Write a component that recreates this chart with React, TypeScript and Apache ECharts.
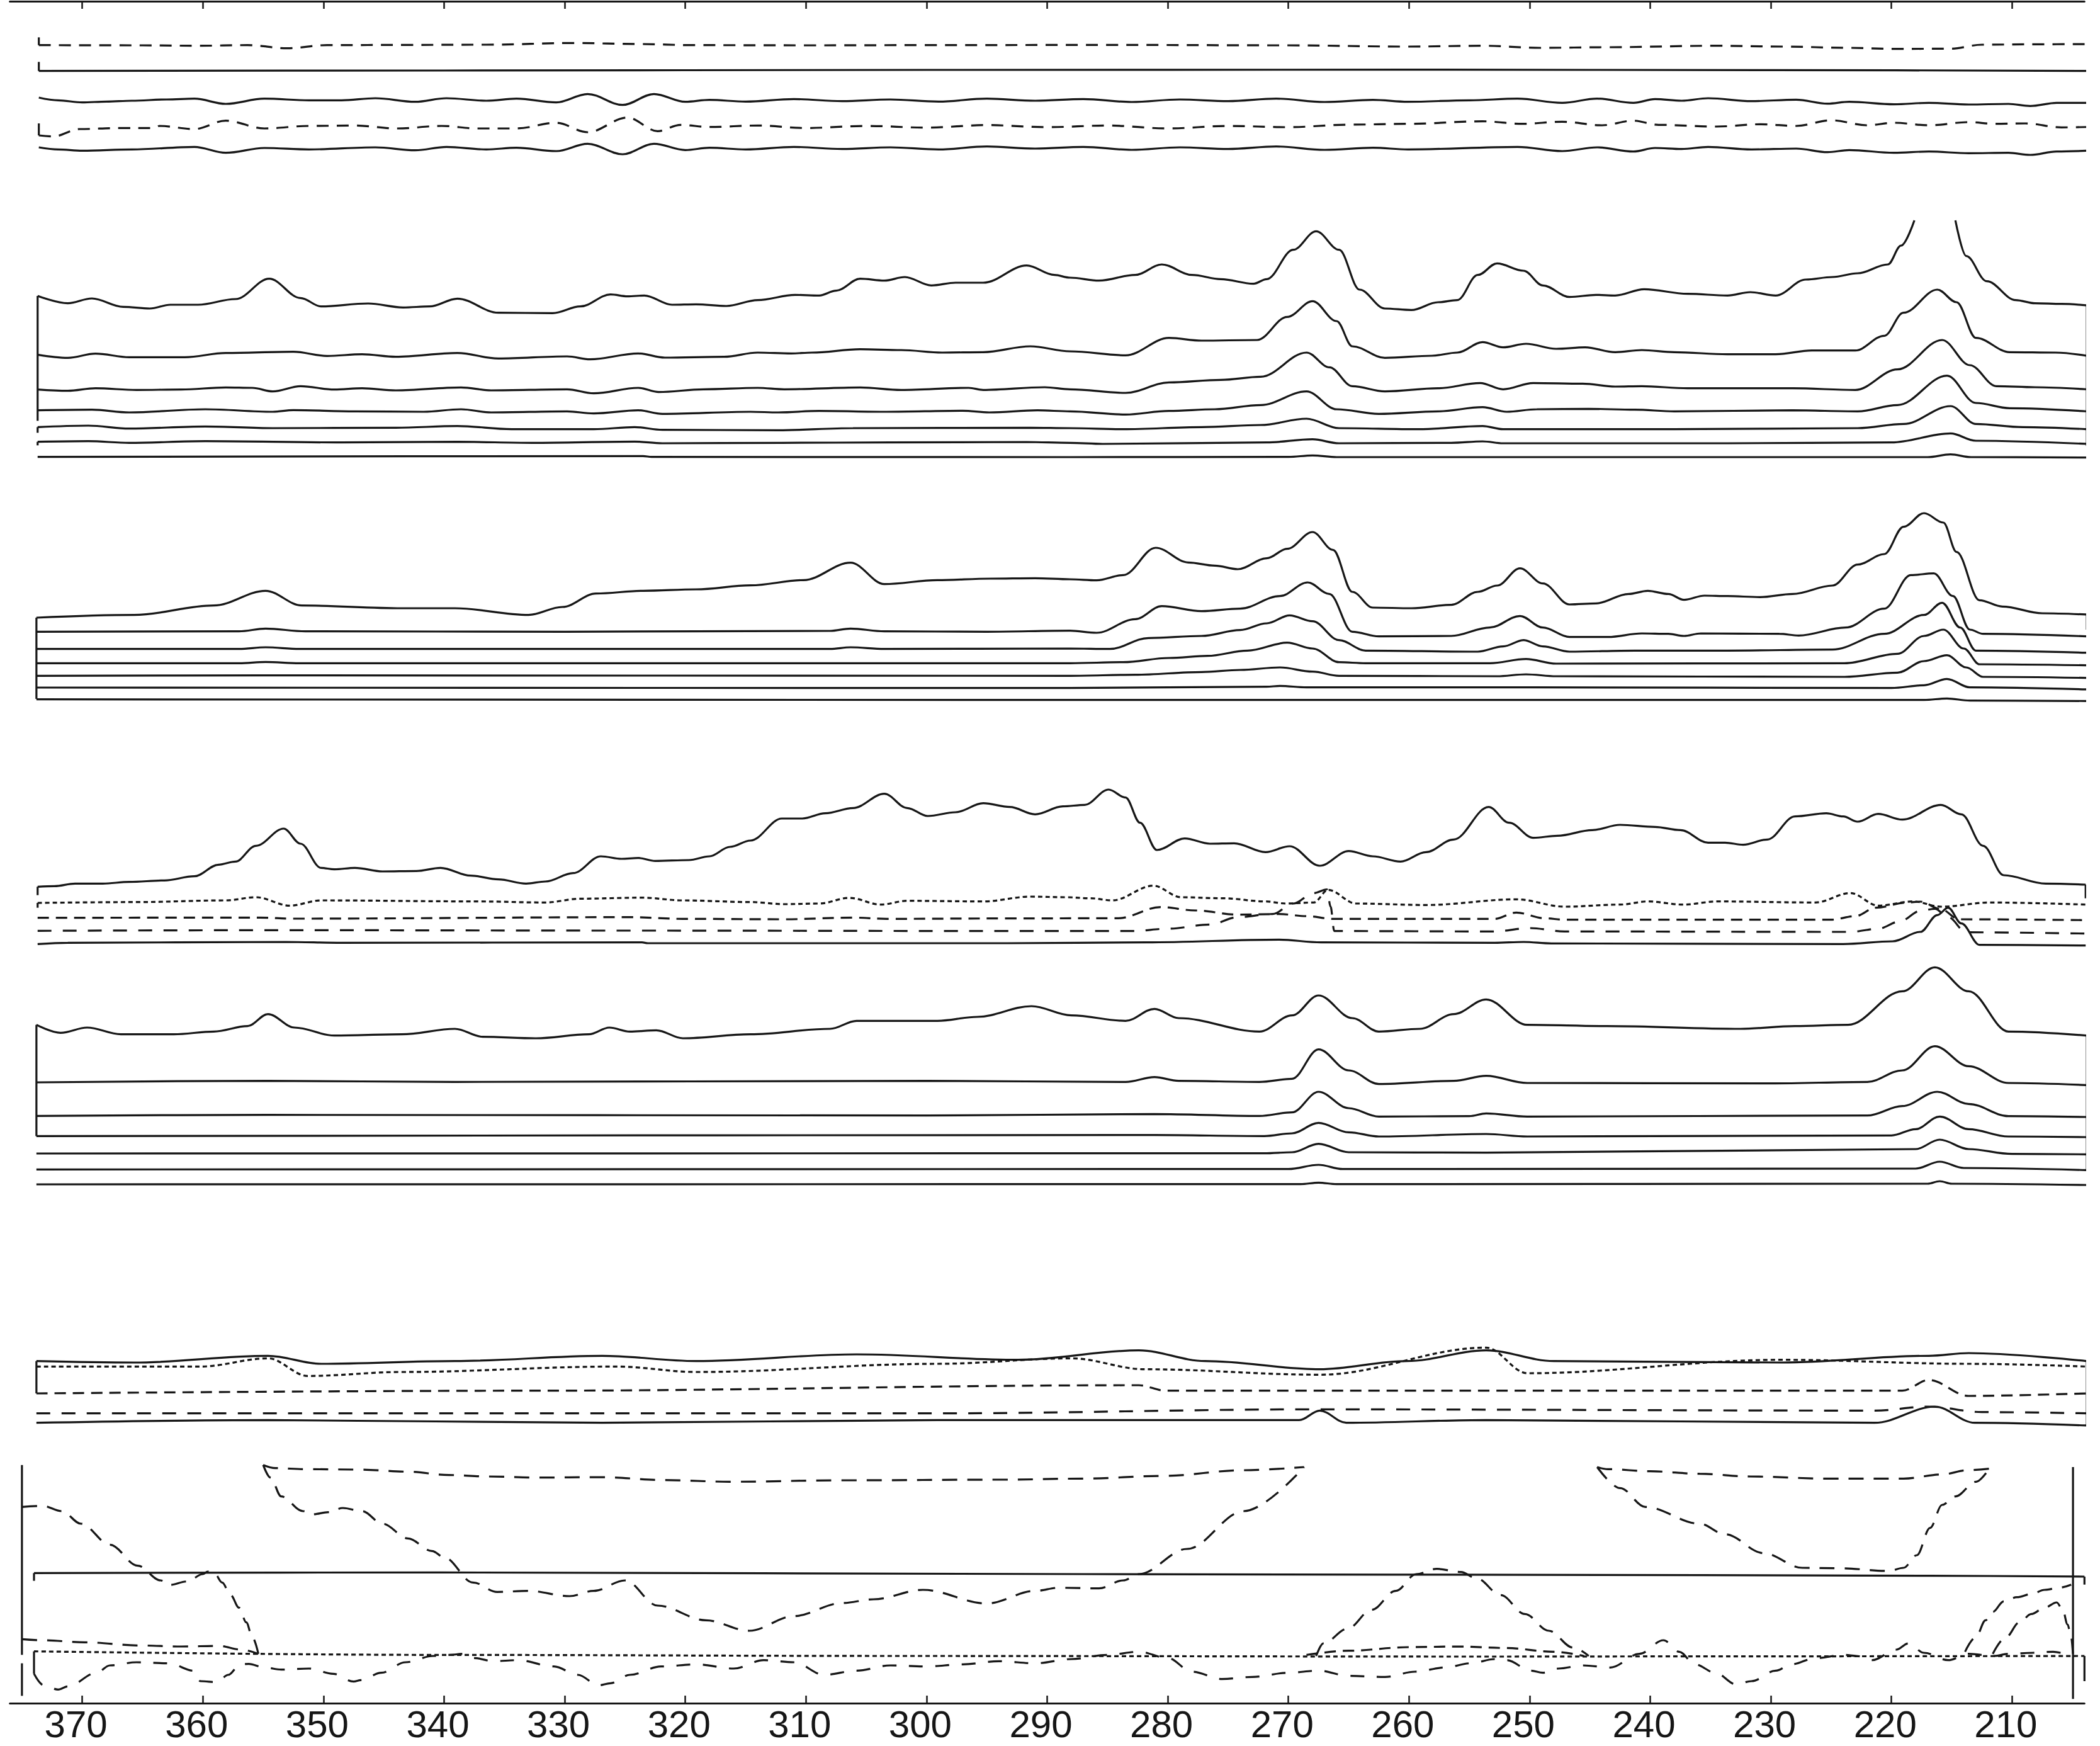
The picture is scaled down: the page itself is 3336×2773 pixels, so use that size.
import React, { useEffect, useRef } from "react";
import * as echarts from "echarts";

type Pt = [number, number];

// ---------- axis ----------
const X_MIN = 204;
const X_MAX = 376;
const TICKS = [210, 220, 230, 240, 250, 260, 270, 280, 290, 300, 310, 320, 330, 340, 350, 360, 370];

// ---------- panel A ----------
const A1: Pt[] = [[373.6,215],[365,216],[360.3,218],[356.3,215],[353.0,230],[349.7,215],[343,214],[336.5,213],[329.2,205],[323.7,210],[319.4,215],[310,216],[300,215],[285,214],[270,216],[260.1,222],[253.9,218],[249.1,228],[243.6,225],[234.5,218],[229.0,222],[223.5,228],[219.8,233],[215.1,232],[212.5,213],[208,211],[203.7,210]];
const A2: Pt[] = [[373.6,338],[340,336],[300,333],[260,332],[230,334],[203.7,338]];
const A3: Pt[] = [[373.6,465],[372,478],[370.0,488],[368,484],[365.9,480],[363,474],[360.7,470],[358.1,495],[354.9,470],[351.2,478],[348.5,478],[345.7,468],[342.4,485],[339.8,468],[336.5,480],[334.0,470],[330.7,488],[328.1,448],[325.2,500],[322.6,448],[320.0,485],[318,476],[315,484],[311,472],[307,482],[303,474],[299,484],[295,470],[291,480],[287,472],[283,486],[279,474],[275,482],[271,470],[267,486],[263,476],[260.1,485],[255,478],[251.0,470],[247.3,490],[244.4,470],[241.4,490],[239.6,472],[237.4,480],[235.2,468],[231.6,482],[227.9,475],[225.3,494],[223.5,485],[219.8,497],[216.9,490],[213.6,498],[210.3,495],[208.5,505],[206.3,490],[203.7,490]];
const A4: Pt[] = [[373.6,645],[372.4,650],[370.2,615],[367,610],[364.0,610],[363.6,600],[360.7,615],[358.1,575],[354.9,612],[351.2,600],[347.5,598],[343.9,612],[340.2,600],[337.3,612],[334.0,612],[330.7,585],[328.1,630],[324.8,560],[322.3,625],[320.4,595],[318,605],[314,598],[310,610],[305,600],[300,608],[295,596],[290,606],[285,598],[280,612],[275,600],[270,606],[265,594],[260.1,590],[253.9,578],[250.6,590],[247.3,580],[244.0,597],[241.4,575],[239.3,595],[234.5,603],[230.8,592],[227.9,600],[225.0,573],[222.0,597],[219.8,585],[216.9,597],[213.6,582],[211.4,590],[208.9,588],[205.9,607],[203.7,605]];
const A5: Pt[] = [[373.6,702],[372,712],[370.0,718],[365.9,712],[360.7,700],[358.1,728],[354.9,705],[351.2,712],[345.7,702],[342.4,716],[339.8,700],[336.5,712],[334.0,704],[330.7,720],[328.1,685],[325.2,735],[322.6,685],[320.0,715],[318,704],[315,712],[311,700],[307,710],[303,702],[299,712],[295,698],[291,708],[287,700],[283,714],[279,702],[275,710],[271,698],[267,714],[263,704],[260.1,712],[251.0,700],[247.3,720],[244.4,702],[241.4,722],[239.6,705],[237.4,710],[235.2,700],[231.6,712],[227.9,708],[225.3,725],[223.5,715],[219.8,728],[216.9,722],[213.6,730],[210.3,728],[208.5,738],[206.3,722],[203.7,718]];

// ---------- panel B ----------
const B1a: Pt[] = [[373.7,420],[371.2,455],[369.2,432],[366.6,472],[364.4,480],[362.7,462],[360.4,462],[357.3,435],[354.5,338],[351.9,430],[350.2,470],[346.3,456],[343.4,475],[341.2,470],[338.9,433],[335.5,500],[331.0,502],[328.7,470],[326.2,413],[324.8,422],[323.4,418],[321.1,462],[319.1,460],[316.6,468],[314.0,440],[310.9,415],[308.9,418],[307.5,395],[305.5,338],[303.5,347],[301.8,330],[299.6,370],[297.6,357],[295.3,357],[291.7,275],[289.4,320],[288.1,333],[285.7,347],[282.7,320],[280.5,270],[278.0,320],[275.6,340],[272.9,362],[271.8,340],[269.6,200],[267.7,112],[265.8,200],[264.1,390],[262.0,480],[259.8,487],[257.6,450],[256.0,440],[254.3,320],[252.7,265],[250.5,300],[248.9,370],[246.7,425],[244.5,415],[242.9,418],[240.5,388],[236.9,410],[233.6,418],[231.7,402],[229.6,418],[227.1,342],[224.9,330],[222.8,312],[220.3,270],[219.2,180],[218.1,60]];
const B1b: Pt[] = [[214.7,60],[213.8,230],[212.1,350],[209.7,440],[208.1,455],[205.9,458],[203.8,465]];
const B2: Pt[] = [[373.7,700],[371.2,715],[368.9,695],[366.1,712],[361.5,712],[358.1,692],[352.5,686],[349.7,706],[346.8,698],[344.0,710],[338.9,692],[335.5,718],[329.8,708],[327.9,722],[323.9,694],[321.7,714],[316.8,710],[314.0,690],[311.2,694],[309.5,690],[305.5,674],[302.1,678],[298.7,690],[295.3,688],[291.4,660],[288.1,684],[283.5,703],[279.9,620],[277.2,633],[272.6,630],[270.1,520],[268.0,445],[266.0,540],[264.7,660],[262.0,715],[258.1,705],[256.0,690],[253.9,640],[252.2,665],[250.3,648],[247.8,672],[245.4,665],[242.9,688],[240.7,678],[238.0,688],[233.6,698],[229.6,698],[226.6,680],[223.0,680],[220.6,610],[219.0,500],[216.2,390],[214.6,450],[213.0,620],[210.2,688],[206.4,690],[203.8,705]];
const B3: Pt[] = [[373.7,866],[371.2,872],[368.9,860],[365.5,868],[361.8,866],[358.1,856],[355.9,858],[354.2,875],[351.9,850],[349.1,866],[346.8,860],[344.0,870],[338.6,856],[336.1,870],[329.8,865],[327.6,884],[323.9,858],[322.2,878],[318.5,865],[314.0,858],[311.8,865],[305.5,856],[302.1,868],[296.5,858],[295.3,868],[290.2,855],[288.1,865],[283.5,882],[279.9,832],[275.6,820],[272.3,805],[268.5,690],[266.6,760],[264.7,850],[262.0,875],[257.6,860],[254.1,835],[252.2,865],[249.7,835],[245.6,838],[242.9,852],[240.7,850],[236.9,860],[228.2,860],[223.0,868],[219.5,770],[215.8,630],[213.5,750],[211.3,850],[208.1,855],[203.8,865]];
const B4: Pt[] = [[373.7,965],[369.2,962],[366.1,975],[359.8,960],[354.2,972],[352.5,964],[347.4,970],[341.7,972],[338.6,960],[336.1,975],[329.8,970],[327.6,980],[323.9,965],[321.9,982],[314.6,972],[312.3,975],[308.9,968],[303.3,972],[297.0,967],[294.8,975],[290.8,965],[288.1,970],[283.5,985],[279.9,968],[276.1,960],[272.3,940],[268.5,875],[266.0,960],[262.5,982],[257.6,970],[253.9,950],[251.9,972],[249.4,960],[245.1,958],[241.3,962],[238.0,970],[228.2,965],[222.8,970],[219.5,940],[215.4,800],[213.0,930],[210.2,955],[203.8,970]];
const B5: Pt[] = [[373.7,1045],[369.5,1038],[366.1,1052],[359.8,1042],[354.2,1050],[344.0,1048],[338.9,1040],[334.4,1055],[327.6,1055],[324.2,1045],[321.9,1058],[312.3,1060],[306.1,1050],[291.4,1048],[288.1,1050],[283.7,1055],[277.2,1045],[272.3,1035],[268.5,1005],[265.8,1050],[259.2,1055],[253.9,1040],[252.2,1055],[238.0,1055],[222.8,1050],[219.0,1030],[215.1,945],[213.0,1030],[209.1,1045],[203.8,1055]];
const B6: Pt[] = [[373.7,1115],[369.5,1112],[366.1,1120],[359.8,1112],[348.5,1118],[338.9,1115],[332.7,1120],[324.2,1114],[321.9,1122],[312,1120],[303,1118],[291.7,1116],[288.1,1120],[285.4,1125],[271.8,1118],[268.0,1103],[265.8,1122],[256.5,1120],[253.9,1113],[252.2,1122],[233.6,1122],[220.0,1118],[215.1,1075],[213.0,1110],[203.8,1125]];
const B7: Pt[] = [[373.7,1187],[323.5,1183],[322.8,1187],[288.1,1188],[270,1187],[268,1180],[266,1188],[255,1188],[217,1188],[215.1,1175],[213.4,1188],[203.8,1190]];

// ---------- panel C ----------
const C1: Pt[] = [[373.8,573],[365.7,560],[359.1,515],[354.8,445],[351.8,515],[343.5,528],[339.1,528],[333.0,560],[330.2,522],[327.4,458],[323.5,445],[319.1,438],[314.6,419],[310.2,394],[306.3,311],[303.5,413],[299.1,394],[294.7,387],[291,385],[288.1,390],[285.9,395],[283.7,370],[281.0,240],[278.3,310],[276.1,325],[274.2,342],[271.8,290],[270.1,245],[268.0,165],[266.3,250],[264.7,450],[263.0,525],[259.8,528],[256.5,512],[254.3,450],[252.7,420],[250.8,338],[248.9,410],[246.7,510],[244.5,505],[241.8,460],[240.2,445],[238.5,460],[237.2,488],[235.5,468],[233.6,470],[230.9,475],[228.2,460],[224.9,420],[222.8,320],[220.6,270],[219.0,140],[217.3,75],[215.7,120],[214.6,260],[212.7,490],[210.8,520],[207.5,552],[203.8,558]];
const C2: Pt[] = [[373.8,640],[357,638],[354.8,625],[351.5,638],[330,640],[308,636],[306.3,625],[303.5,638],[295,640],[288.1,635],[285.9,645],[282.7,580],[280.5,518],[277.2,542],[274.0,530],[270.7,470],[268.4,405],[266.6,460],[264.7,640],[262.5,662],[256.5,660],[253.3,620],[250.8,565],[248.9,620],[246.7,665],[243.5,665],[240.7,648],[238.5,650],[237.2,660],[235.8,648],[229.3,650],[227.7,658],[223.8,620],[220.6,530],[218.4,370],[216.5,362],[214.9,470],[213.5,630],[212.4,650],[203.8,662]];
const C3: Pt[] = [[373.8,722],[357,722],[354.8,714],[352,722],[308,722],[306.3,714],[303.5,722],[288.1,720],[284.8,722],[281.6,670],[277.2,660],[274.0,632],[271.8,600],[269.9,562],[268.0,590],[265.8,680],[263.6,730],[254.3,735],[252.2,710],[250.5,680],[248.9,710],[246.7,735],[241.3,730],[233.6,730],[224.9,725],[220.6,650],[217.3,560],[215.8,502],[214.3,620],[213.0,730],[203.8,740]];
const C4: Pt[] = [[373.8,790],[357,790],[354.8,784],[352,790],[288.1,790],[283.7,785],[279.9,765],[276.7,755],[273.4,730],[270.1,692],[268.0,720],[265.8,785],[263.6,790],[253.3,790],[250.3,770],[247.8,792],[223.9,790],[219.5,745],[217.3,660],[215.7,630],[214.0,720],[212.7,795],[203.8,800]];
const C5: Pt[] = [[373.8,850],[355,848],[288.1,850],[282.7,845],[277.2,832],[274.0,822],[270.7,810],[268.0,830],[265.8,850],[252.7,852],[250.3,843],[247.8,852],[223.9,855],[219.5,835],[217.3,780],[215.4,752],[213.8,810],[212.4,855],[203.8,860]];
const C6: Pt[] = [[373.8,906],[288.1,908],[271.8,902],[270.7,898],[268.5,905],[250.0,905],[220.0,908],[217.3,895],[215.4,865],[213.5,905],[203.8,915]];
const C7: Pt[] = [[373.8,962],[288.1,965],[250.0,965],[217.3,965],[215.4,958],[213.5,968],[203.8,970]];

// ---------- panel D ----------
const D1: Pt[] = [[373.7,505],[372.3,502],[370.6,490],[368.3,490],[366.1,482],[363.2,475],[360.7,455],[358.7,400],[357.3,385],[355.6,310],[353.3,228],[351.9,300],[350.2,415],[349.1,422],[347.4,415],[345.1,432],[342.3,430],[340.3,415],[337.8,452],[335.5,470],[333.2,490],[331.6,480],[329.3,440],[327.0,360],[325.3,372],[323.9,368],[322.5,382],[319.7,378],[318.0,360],[316.3,315],[314.6,285],[312.0,180],[310.3,180],[308.4,155],[306.1,130],[303.5,62],[301.6,130],[299.9,168],[297.6,150],[295.3,107],[293.1,125],[291.0,160],[288.7,122],[286.9,115],[284.9,42],[283.5,80],[282.3,200],[280.9,330],[278.6,275],[276.5,300],[274.5,298],[271.9,340],[269.9,312],[267.4,405],[265.0,335],[263.0,360],[260.7,385],[258.6,340],[256.3,280],[253.4,125],[251.7,200],[249.7,272],[247.7,262],[244.8,235],[242.5,210],[239.6,220],[237.5,235],[235.2,295],[233.8,295],[232.3,305],[230.3,280],[228.0,170],[225.4,155],[224.0,170],[222.8,195],[221.1,158],[219.1,185],[215.9,115],[214.2,160],[212.4,310],[210.7,450],[207.2,490],[203.9,495]];
const D2: Pt[] = [[373.7,582],[365.5,578],[358.1,570],[355.6,555],[352.8,595],[350.2,570],[337.2,575],[331.6,580],[328.7,562],[323.6,557],[320.2,570],[314.6,578],[311.8,588],[308.9,585],[306.4,558],[303.8,590],[301.6,572],[295.3,575],[291.4,552],[288.4,555],[286.4,560],[284.6,570],[281.2,500],[278.9,555],[275.4,560],[271.9,575],[270.2,585],[267.9,580],[266.7,520],[264.4,585],[258.6,592],[251.1,565],[247.1,600],[242.5,590],[240.2,575],[237.3,590],[234.4,575],[226.3,580],[223.4,535],[221.1,595],[218.2,575],[215.9,600],[211.8,580],[203.9,590]];
const D3: Pt[] = [[373.7,653],[355.3,652],[352.5,657],[324.7,650],[320.2,658],[311.8,660],[306.1,652],[303.3,658],[293.3,656],[284.1,655],[280.6,602],[277.7,618],[274.2,638],[270.8,635],[268.5,645],[266.3,658],[252.9,658],[251.1,628],[248.8,655],[247.1,662],[225.0,662],[223.0,645],[221.3,605],[218.7,580],[217.6,576],[215.9,612],[214.4,660],[203.9,664]];
const D4: Pt[] = [[373.7,715],[354.2,712],[324.2,714],[293.3,716],[282.9,716],[280.0,705],[276.5,685],[274.2,650],[271.3,635],[269.6,585],[267.9,535],[266.8,518],[266.5,600],[266.2,716],[252.9,718],[250.0,702],[247.1,718],[223.4,720],[221.1,705],[219.3,670],[217.6,620],[216.4,610],[215.3,650],[213.8,722],[203.9,728]];
const D5: Pt[] = [[373.7,778],[371.2,772],[353.1,768],[348.5,772],[323.6,770],[323.1,774],[293.3,774],[281.8,770],[270.8,757],[267.3,770],[252.9,772],[250.5,768],[248.2,775],[224.0,778],[219.9,765],[217.6,720],[216.2,640],[215.3,605],[214.2,680],[212.7,782],[203.9,785]];

// ---------- panel E ----------
const E1: Pt[] = [[373.8,383],[371.8,421],[369.6,396],[366.8,428],[362.4,428],[359.1,415],[356.3,389],[354.6,332],[352.4,396],[349.1,434],[343.5,428],[339.1,402],[336.8,440],[332.4,447],[328.0,428],[326.3,396],[324.6,415],[322.4,409],[320.2,447],[314.6,428],[308.0,402],[305.8,364],[299.1,364],[295.8,345],[291.3,294],[288.0,338],[283.5,364],[281.1,307],[279.1,351],[272.4,415],[269.7,338],[267.5,243],[264.7,351],[262.5,415],[259.1,402],[256.3,332],[253.6,262],[250.2,383],[243.6,389],[232.5,402],[228.0,389],[223.6,383],[219.1,223],[216.4,109],[213.6,223],[210.3,415],[203.8,434]];
const E2: Pt[] = [[373.8,657],[354.6,650],[339.1,655],[300,650],[283.5,655],[281.1,632],[279.1,650],[272.4,655],[269.7,640],[267.5,500],[265.0,600],[262.5,665],[256.3,650],[253.6,626],[250.2,660],[230,662],[222,655],[219.1,600],[216.4,485],[213.6,580],[210.3,660],[203.8,670]];
const E3: Pt[] = [[373.8,817],[354.6,812],[300,815],[281.1,808],[272.4,817],[269.7,800],[267.5,702],[265.0,780],[262.5,820],[255,818],[253.6,805],[250.2,820],[222,815],[219.1,770],[216.2,702],[213.6,760],[210.3,818],[203.8,822]];
const E4: Pt[] = [[373.8,913],[281.1,908],[272,913],[269.7,900],[267.5,850],[265.0,895],[262.5,915],[253.6,903],[250.2,915],[220,910],[218,880],[216,820],[213.6,880],[210.3,915],[203.8,918]];
const E5: Pt[] = [[373.8,996],[272,995],[269.7,990],[267.5,950],[265.0,990],[253.6,992],[218,975],[216,930],[213.6,975],[210,998],[203.8,1000]];
const E6: Pt[] = [[373.8,1072],[270,1070],[267.5,1050],[265.5,1070],[218,1068],[216,1035],[214,1065],[203.8,1075]];
const E7: Pt[] = [[373.8,1143],[269,1142],[267.5,1135],[266,1142],[217,1140],[216,1128],[215,1140],[203.8,1146]];

// ---------- panel F ----------
const F1: Pt[] = [[373.8,185],[365.7,192],[354.6,160],[350.2,198],[339.1,185],[326.9,160],[319.1,185],[305.8,153],[292.4,179],[282.4,134],[276.9,185],[267.4,224],[260.2,185],[253.6,134],[248.0,185],[229.1,192],[216.9,160],[213.6,147],[203.8,185]];
const F2: Pt[] = [[373.8,211],[360.2,211],[354.6,172],[351.3,256],[343.5,237],[325.7,211],[319.1,237],[299.1,198],[288.0,172],[281.9,224],[267.4,250],[253.6,121],[250.2,243],[229.1,179],[213.6,198],[203.8,211]];
const F3: Pt[] = [[373.8,339],[332.4,326],[282.4,300],[280.2,326],[254.7,326],[219.1,326],[216.9,275],[213.6,351],[203.8,339]];
const F4: Pt[] = [[373.8,434],[299.1,434],[268.0,415],[221.4,421],[216.9,402],[212.5,428],[203.8,434]];
const F5: Pt[] = [[373.8,479],[354.6,466],[326.9,479],[299.1,466],[269.1,466],[267.4,421],[265.2,479],[253.6,466],[221.4,479],[216.4,402],[213.1,479],[203.8,492]];

// ---------- panel G ----------
const G1: Pt[] = [[374.0,655],[340.3,652],[287,660],[235.9,665],[216.8,668],[204.0,672]];
const G2: Pt[] = [[374.0,1028],[340.3,1045],[302,1050],[254,1053],[235.9,1052],[204.0,1050]];
const G3: Pt[] = [[375.0,340],[373.3,335],[371.7,360],[370.1,420],[367.7,520],[365.4,620],[363.5,690],[362.8,712],[361.3,695],[360.0,660],[359.6,648],[359.0,660],[358.4,700],[357.7,760],[357.0,820],[356.4,890],[355.9,960],[355.4,1040]];
const G4: Pt[] = [[375.0,970],[373.3,975],[369.8,985],[365.2,1000],[361.8,1005],[358.7,1002],[356.8,1020],[355.4,1040]];
const G5U: Pt[] = [[355.0,140],[354.0,155],[351.5,160],[347.0,162],[343.0,172],[339.6,188],[336.3,195],[332.3,200],[327.0,198],[321.7,212],[316.3,220],[307.0,213],[293.7,210],[287.0,205],[280.4,192],[273.7,165],[268.7,150]];
const G5L: Pt[] = [[355.0,140],[354.4,200],[353.5,290],[351.7,360],[350.9,375],[349.6,365],[348.4,345],[346.8,360],[345.1,420],[343.0,490],[341.0,550],[340.0,580],[337.6,700],[335.6,745],[333.0,740],[329.6,765],[327.6,740],[325.0,690],[322.3,810],[318.3,880],[314.7,930],[311.0,860],[307.0,798],[304.4,780],[300.3,735],[295.0,800],[291.0,740],[289.0,725],[285.7,728],[283.7,690],[282.4,660],[278.4,540],[273.7,360],[268.7,150]];
const G6U: Pt[] = [[244.4,150],[243.5,160],[240,170],[235.9,182],[231.7,195],[225.3,205],[219.0,205],[215.8,185],[213.7,165],[211.9,158]];
const G6L: Pt[] = [[244.4,150],[242.5,250],[240.4,340],[235.9,420],[233.8,470],[230.6,560],[227.4,630],[224.3,632],[220.2,645],[219.0,630],[217.9,570],[216.8,440],[215.8,330],[214.7,290],[213.0,220],[211.9,158]];
const G7: Pt[] = [[267.7,1050],[267.1,990],[265.1,920],[263.1,830],[261.1,740],[259.4,660],[257.7,635],[255.7,650],[254.4,680],[252.4,760],[250.4,850],[248.4,930],[246.4,1010],[245.1,1050]];
const G8: Pt[] = [[268.5,1045],[265,1025],[260,1008],[256,1005],[252,1012],[248,1030],[245.5,1050]];
const G9: Pt[] = [[374.0,1135],[373.2,1190],[372.0,1210],[371.2,1195],[368.8,1130],[367.7,1095],[365.5,1080],[362.8,1085],[360.8,1120],[360.2,1170],[358.8,1175],[357.9,1140],[356.9,1090],[356.2,1088],[354.9,1105],[353.5,1115],[351.2,1110],[349.2,1135],[347.5,1172],[346.9,1165],[345.2,1130],[343.2,1080],[340.9,1050],[339.5,1045],[338.5,1040],[337.5,1060],[335.9,1075],[333.9,1070],[330.9,1100],[328.9,1140],[327.2,1190],[326.2,1180],[324.6,1140],[322,1100],[319.1,1090],[316,1110],[313.5,1070],[311,1080],[308.5,1140],[305.8,1120],[303,1095],[300,1100],[297,1090],[294,1075],[291,1085],[288,1065],[285,1045],[282.4,1030],[280,1060],[278,1125],[275.5,1160],[273,1150],[270,1130],[267.5,1120],[265,1145],[262,1150],[259.5,1125],[257,1105],[254.9,1085],[252.9,1065],[251.9,1070],[249.9,1120],[248.9,1130],[247.6,1110],[245.6,1095],[243.3,1105],[240.9,1040],[238.9,975],[237.6,1030],[236.3,1090],[234.6,1130],[232.9,1185],[231.6,1170],[229.6,1120],[228.3,1090],[226.3,1060],[223.9,1045],[222.9,1050],[221.6,1070],[219.6,1020],[218.6,990],[217.3,1035],[215.3,1070],[213.6,1040],[211.5,1050],[210.3,1040],[208.3,1035],[206.6,1030],[205.3,1045]];
const G11: Pt[] = [[213.9,1030],[213.0,960],[212.2,880],[211.6,840],[210.7,790],[209.6,770],[208.4,755],[207.3,735],[206.1,725],[205.1,710]];
const G12: Pt[] = [[211.6,1040],[210.5,960],[209.4,890],[208.4,850],[207.3,820],[206.3,795],[205.8,830],[205.4,900],[205.1,960],[204.95,1045]];

// end ticks / joining strokes of traces: [panel, wavelength, from, to] in panel units
const BRACKETS: [number, number, number, number][] = [
  [0, 373.6, 178, 215], [0, 203.7, 178, 210], [0, 373.6, 295, 338], [0, 203.7, 305, 338],
  [0, 373.6, 588, 645], [0, 203.7, 470, 490], [0, 203.7, 700, 718],
  [1, 373.7, 420, 1015], [1, 373.7, 1045, 1072], [1, 373.7, 1115, 1132], [1, 203.8, 465, 1135],
  [2, 373.8, 573, 960], [2, 203.8, 558, 630],
  [3, 373.7, 505, 545], [3, 373.7, 582, 605], [3, 203.9, 495, 560],
  [4, 373.8, 383, 913], [4, 203.8, 434, 1075],
  [5, 373.8, 185, 339], [5, 203.8, 185, 492],
  [6, 375.0, 140, 1045], [6, 375.0, 1085, 1240], [6, 374.0, 655, 692], [6, 374.0, 1028, 1135],
  [6, 204.95, 150, 1255], [6, 204.0, 672, 710], [6, 204.0, 1050, 1170],
];

// ---------- layout / styles ----------
const INK = "#161616";
const GRID_LEFT = 15.7;
const GRID_W = 3295.6;
const PANELS = [
  { top: 0, height: 260 },
  { top: 330, height: 410 },
  { top: 790, height: 330 },
  { top: 1240, height: 280 },
  { top: 1500, height: 420 },
  { top: 2100, height: 200 },
  { top: 2280, height: 400 },
];
const DASH: Record<string, any> = {
  solid: "solid",
  dashA: [19, 13],
  dot: [7, 5],
  dash: [18, 11],
  long: [22, 18],
  gdash: [24, 16],
  noise: [22, 20],
};

const TRACES: { p: number; d: Pt[]; s: string }[] = [
  { p: 0, d: A1, s: "dashA" }, { p: 0, d: A2, s: "solid" }, { p: 0, d: A3, s: "solid" }, { p: 0, d: A4, s: "dashA" }, { p: 0, d: A5, s: "solid" },
  { p: 1, d: B1a, s: "solid" }, { p: 1, d: B1b, s: "solid" }, { p: 1, d: B2, s: "solid" }, { p: 1, d: B3, s: "solid" }, { p: 1, d: B4, s: "solid" }, { p: 1, d: B5, s: "solid" }, { p: 1, d: B6, s: "solid" }, { p: 1, d: B7, s: "solid" },
  { p: 2, d: C1, s: "solid" }, { p: 2, d: C2, s: "solid" }, { p: 2, d: C3, s: "solid" }, { p: 2, d: C4, s: "solid" }, { p: 2, d: C5, s: "solid" }, { p: 2, d: C6, s: "solid" }, { p: 2, d: C7, s: "solid" },
  { p: 3, d: D1, s: "solid" }, { p: 3, d: D2, s: "dot" }, { p: 3, d: D3, s: "dash" }, { p: 3, d: D4, s: "long" }, { p: 3, d: D5, s: "solid" },
  { p: 4, d: E1, s: "solid" }, { p: 4, d: E2, s: "solid" }, { p: 4, d: E3, s: "solid" }, { p: 4, d: E4, s: "solid" }, { p: 4, d: E5, s: "solid" }, { p: 4, d: E6, s: "solid" }, { p: 4, d: E7, s: "solid" },
  { p: 5, d: F1, s: "solid" }, { p: 5, d: F2, s: "dot" }, { p: 5, d: F3, s: "dash" }, { p: 5, d: F4, s: "long" }, { p: 5, d: F5, s: "solid" },
  { p: 6, d: G1, s: "solid" }, { p: 6, d: G2, s: "dot" }, { p: 6, d: G3, s: "gdash" }, { p: 6, d: G4, s: "gdash" },
  { p: 6, d: G5U, s: "gdash" }, { p: 6, d: G5L, s: "gdash" }, { p: 6, d: G6U, s: "gdash" }, { p: 6, d: G6L, s: "gdash" },
  { p: 6, d: G7, s: "gdash" }, { p: 6, d: G8, s: "dash" }, { p: 6, d: G9, s: "noise" }, { p: 6, d: G11, s: "gdash" }, { p: 6, d: G12, s: "gdash" },
];

function buildOption() {
  const grids: any[] = PANELS.map((pn) => ({
    left: GRID_LEFT, width: GRID_W, top: pn.top, height: pn.height,
    containLabel: false, outerBoundsMode: "none", show: false,
  }));
  grids.push({ left: GRID_LEFT, width: GRID_W, top: 2, height: 2703, containLabel: false, outerBoundsMode: "none", show: false });

  const xAxes: any[] = PANELS.map((_, i) => ({
    gridIndex: i, type: "value", min: X_MIN, max: X_MAX, inverse: true, show: false,
  }));
  const yAxes: any[] = PANELS.map((pn, i) => ({
    gridIndex: i, type: "value", min: 0, max: pn.height * 3, inverse: true, show: false,
  }));
  const axisCommon = {
    gridIndex: 7, type: "value", min: X_MIN, max: X_MAX, inverse: true,
    splitLine: { show: false },
    axisLine: { show: true, onZero: false, lineStyle: { color: INK, width: 3 } },
    axisTick: { show: true, inside: true, length: 12, customValues: TICKS, lineStyle: { color: INK, width: 2.5 } },
  };
  xAxes.push({
    ...axisCommon, position: "bottom",
    axisLabel: {
      show: true, customValues: TICKS, inside: false, margin: 3,
      padding: [0, 20, 0, 0],
      fontSize: 60, fontFamily: "Liberation Sans, Arial, sans-serif", color: INK,
      formatter: (v: number) => String(v),
    },
  });
  xAxes.push({ ...axisCommon, position: "top", axisLabel: { show: false } });
  yAxes.push({ gridIndex: 7, type: "value", min: 0, max: 1, show: false });

  const series: any[] = TRACES.map((t) => ({
    type: "line", xAxisIndex: t.p, yAxisIndex: t.p, data: t.d,
    showSymbol: false, symbol: "none", smooth: 0.35, smoothMonotone: "x",
    silent: true, clip: false,
    lineStyle: { color: INK, width: 3.2, type: DASH[t.s], cap: "butt" },
  }));
  BRACKETS.forEach(([p, v, a, b]) => {
    series.push({
      type: "line", xAxisIndex: p, yAxisIndex: p, data: [[v, a], [v, b]],
      showSymbol: false, symbol: "none", smooth: false, silent: true, clip: false,
      lineStyle: { color: INK, width: 3.2, type: "solid" },
    });
  });

  return {
    animation: false,
    backgroundColor: "#ffffff",
    grid: grids,
    xAxis: xAxes,
    yAxis: yAxes,
    series,
  };
}

export default function App() {
  const ref = useRef<HTMLDivElement>(null);
  useEffect(() => {
    document.body.style.margin = "0";
    if (!ref.current) return;
    const chart = echarts.init(ref.current, undefined, { renderer: "svg" });
    chart.setOption(buildOption() as any);
    return () => chart.dispose();
  }, []);
  return <div ref={ref} style={{ width: 3336, height: 2773, background: "#fff" }} />;
}
